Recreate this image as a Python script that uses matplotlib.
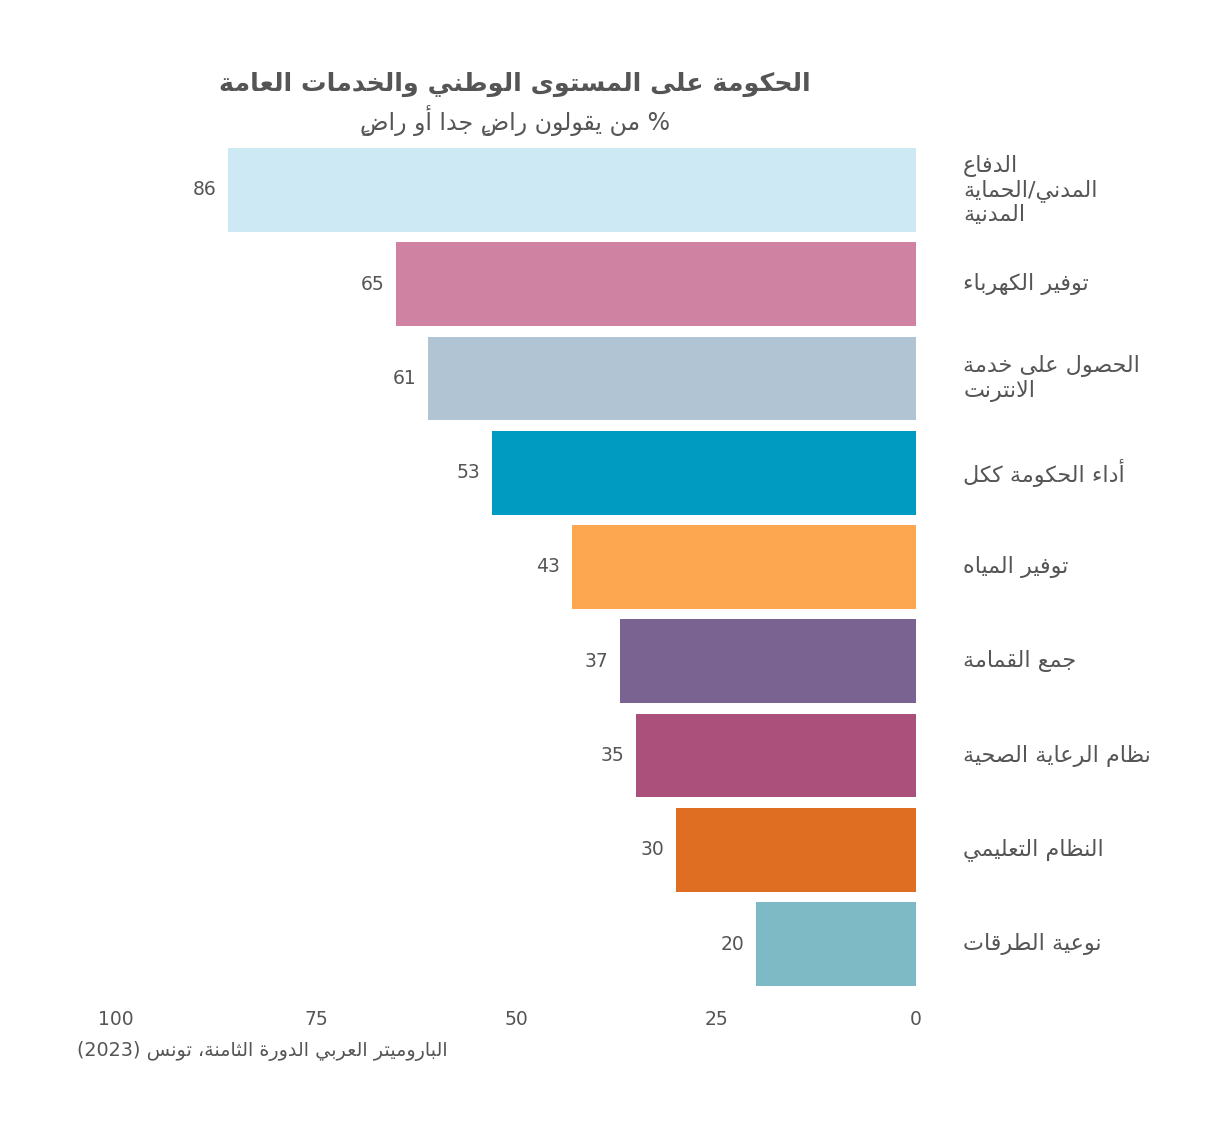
import matplotlib
matplotlib.use("Agg")
import matplotlib.pyplot as plt

# data, top bar first
categories = [
    "الدفاع\nالمدني/الحماية\nالمدنية",
    "توفير الكهرباء",
    "الحصول على خدمة\nالانترنت",
    "أداء الحكومة ككل",
    "توفير المياه",
    "جمع القمامة",
    "نظام الرعاية الصحية",
    "النظام التعليمي",
    "نوعية الطرقات",
]
values = [86, 65, 61, 53, 43, 37, 35, 30, 20]
colors = ["#CDE9F3", "#CF82A2", "#B1C4D3", "#009BC0", "#FDA750",
          "#7B6391", "#AB507B", "#E06E22", "#7EB9C6"]
ticks = [100, 75, 50, 25, 0]

title = "الحكومة على المستوى الوطني والخدمات العامة"
subtitle = "% من يقولون راضٍ جدا أو راضٍ"
source = "الباروميتر العربي الدورة الثامنة، تونس (2023)"

# --- minimal Arabic shaping + right-to-left ordering (no reshaper lib available)
AR = {
    'ء': (0xFE80, 1), 'آ': (0xFE81, 2), 'أ': (0xFE83, 2), 'ؤ': (0xFE85, 2),
    'إ': (0xFE87, 2), 'ئ': (0xFE89, 4), 'ا': (0xFE8D, 2), 'ب': (0xFE8F, 4),
    'ة': (0xFE93, 2), 'ت': (0xFE95, 4), 'ث': (0xFE99, 4), 'ج': (0xFE9D, 4),
    'ح': (0xFEA1, 4), 'خ': (0xFEA5, 4), 'د': (0xFEA9, 2), 'ذ': (0xFEAB, 2),
    'ر': (0xFEAD, 2), 'ز': (0xFEAF, 2), 'س': (0xFEB1, 4), 'ش': (0xFEB5, 4),
    'ص': (0xFEB9, 4), 'ض': (0xFEBD, 4), 'ط': (0xFEC1, 4), 'ظ': (0xFEC5, 4),
    'ع': (0xFEC9, 4), 'غ': (0xFECD, 4), 'ف': (0xFED1, 4), 'ق': (0xFED5, 4),
    'ك': (0xFED9, 4), 'ل': (0xFEDD, 4), 'م': (0xFEE1, 4), 'ن': (0xFEE5, 4),
    'ه': (0xFEE9, 4), 'و': (0xFEED, 2), 'ى': (0xFEEF, 2), 'ي': (0xFEF1, 4),
}
LAM_ALEF = {'آ': 0xFEF5, 'أ': 0xFEF7, 'إ': 0xFEF9, 'ا': 0xFEFB}
MARKS = {chr(c) for c in range(0x064B, 0x0653)}
MIRROR = {'(': ')', ')': '('}


def ar_line(s):
    # clusters: [base, marks]
    cl = []
    for ch in s:
        if ch in MARKS and cl:
            cl[-1][1] += ch
        elif ch in LAM_ALEF and cl and cl[-1][0] == 'ل' and not cl[-1][1]:
            cl[-1][0] = 'LA' + ch
        else:
            cl.append([ch, ""])

    def joins_next(b):
        return b in AR and AR[b][1] == 4

    def joins_prev(b):
        return b.startswith('LA') or (b in AR and AR[b][1] >= 2)

    out = []
    for i, (b, m) in enumerate(cl):
        jp = i > 0 and joins_next(cl[i - 1][0]) and joins_prev(b)
        jn = i < len(cl) - 1 and joins_next(b) and joins_prev(cl[i + 1][0])
        if b.startswith('LA'):
            g = chr(LAM_ALEF[b[2]] + (1 if jp else 0))
        elif b in AR:
            base = AR[b][0]
            k = 3 if (jp and jn) else 1 if jp else 2 if jn else 0
            g = chr(base + k)
        else:
            g = MIRROR.get(b, b)
        out.append([m + g, b.isdigit()])
    # reverse, keeping digit runs left to right
    runs = []
    for g, dig in out:
        if dig and runs and runs[-1][1]:
            runs[-1][0] += g
        else:
            runs.append([g, dig])
    return "".join(r[0] for r in reversed(runs))


def ar(s):
    return "\n".join(ar_line(line) for line in s.split("\n"))


plt.rcParams['font.family'] = ['DejaVu Sans']
TXT = "#555555"

fig = plt.figure(figsize=(12.3, 11.35), dpi=100)
ax = fig.add_axes([116 / 1230, 1 - 986 / 1135, 800 / 1230, 838 / 1135])

y = list(range(len(values)))
ax.barh(y, values, height=0.89, color=colors)
ax.set_xlim(100, 0)
ax.set_ylim(len(values) - 1 + 0.445, -0.445)

for yi, v in zip(y, values):
    ax.text(v + 1.5, yi, str(v), ha="right", va="center", fontsize=13.5, color=TXT)

for yi, lab in zip(y, categories):
    ax.text(-5.9, yi, ar(lab), ha="left", va="center", fontsize=16,
            color=TXT, linespacing=1.16)

ax.set_xticks(ticks)
ax.set_xticklabels([str(t) for t in ticks], fontsize=13.5, color=TXT)
ax.tick_params(axis="x", length=0, pad=17)
ax.set_yticks([])
for s in ax.spines.values():
    s.set_visible(False)

fig.text(515 / 1230, 1 - 84 / 1135, ar(title), ha="center", va="center",
         fontsize=18.3, fontweight="bold", color=TXT)
fig.text(515 / 1230, 1 - 121 / 1135, ar(subtitle), ha="center", va="center",
         fontsize=17, color=TXT)
fig.text(448 / 1230, 1 - 1051 / 1135, ar(source), ha="right", va="center",
         fontsize=13.8, color=TXT)

fig.savefig("out.png", dpi=100)
